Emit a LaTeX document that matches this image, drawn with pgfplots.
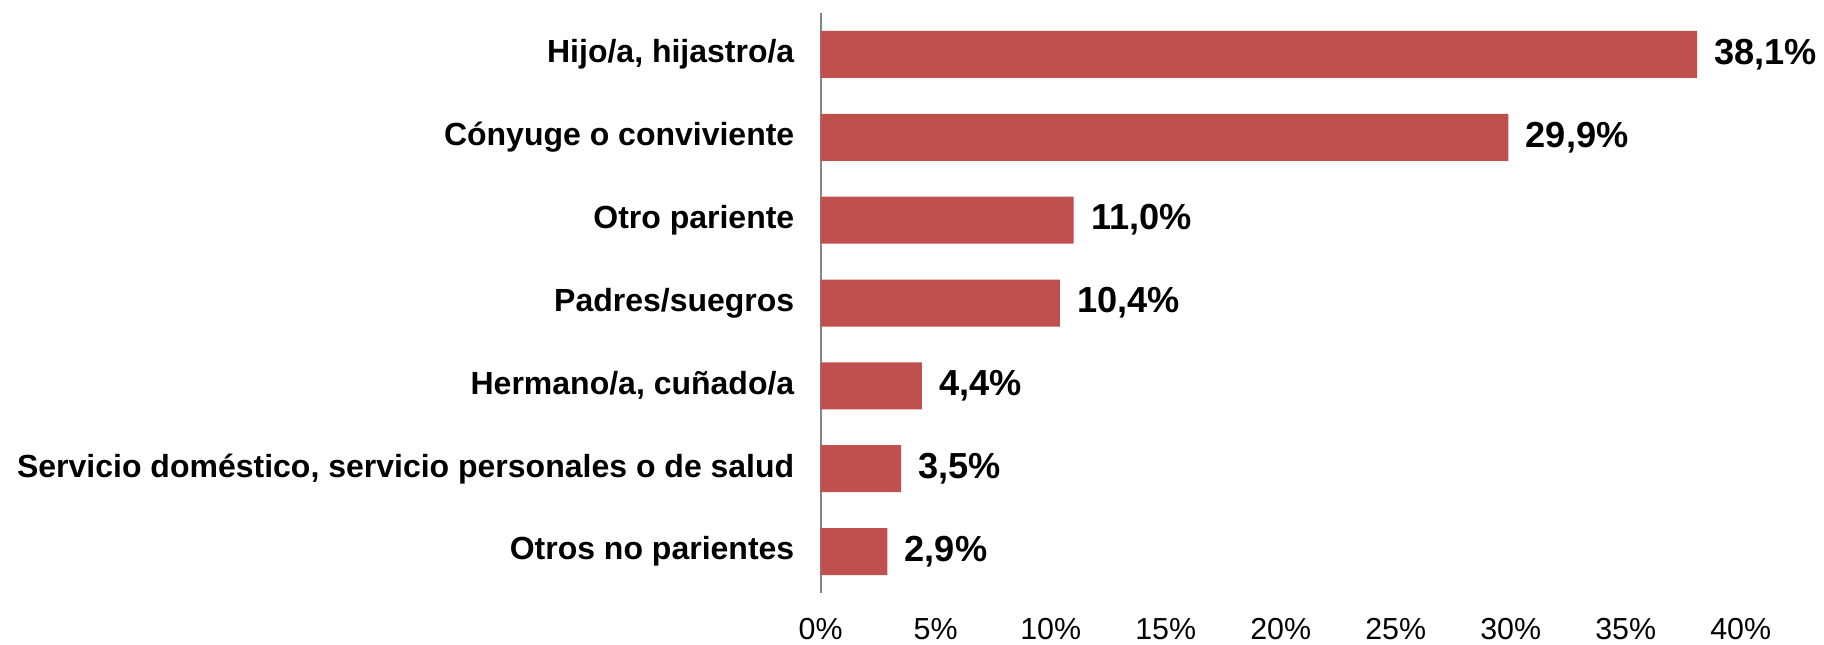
\documentclass[border=0pt]{standalone}
\usepackage{pgfplots}
\pgfplotsset{compat=1.18}
\usepackage{fontspec}
\setmainfont{Liberation Sans}
\definecolor{barred}{HTML}{C0504D}
\definecolor{axgray}{HTML}{868686}
\begin{document}
\begin{tikzpicture}
\useasboundingbox (-410.35pt,-25.65pt) rectangle (501.65pt,296.5pt);
\begin{axis}[
  at={(0,0)}, anchor=south west,
  width=460pt, height=290pt, scale only axis,
  xmin=0, xmax=40, ymin=-0.5, ymax=6.5,
  y dir=reverse,
  enlargelimits=false,
  clip=false,
  axis lines*=left,
  x axis line style={draw=none},
  y axis line style={draw=axgray, line width=0.9pt},
  major tick length=0pt,
  tick style={draw=none},
  xtick={0,5,...,40},
  ytick={0,1,2,3,4,5,6},
  yticklabels={{Hijo/a, hijastro/a}, {Cónyuge o conviviente}, {Otro pariente}, {Padres/suegros}, {Hermano/a, cuñado/a}, {Servicio doméstico, servicio personales o de salud}, {Otros no parientes}},
  /pgf/number format/assume math mode=true,
  xticklabel={\pgfmathprintnumber{\tick}\%},
  xticklabel style={font=\fontsize{15.2}{18}\selectfont, inner sep=0pt, anchor=north, yshift=-12.5pt},
  yticklabel style={font=\fontsize{16}{19}\selectfont\bfseries, inner sep=0pt, anchor=east, xshift=-13pt},
]
\addplot[xbar, fill=barred, draw=none, bar width=23.5pt,
  point meta=x,
  nodes near coords={\pgfmathprintnumber[fixed,fixed zerofill,precision=1,use comma]{\pgfplotspointmeta}\%},
  nodes near coords style={font=\fontsize{18.1}{21}\selectfont\bfseries, anchor=west, inner sep=0pt, xshift=8.5pt, text=black},
] coordinates {
  (38.1,0) (29.9,1) (11.0,2) (10.4,3) (4.4,4) (3.5,5) (2.9,6)
};
\end{axis}
\end{tikzpicture}
\end{document}
